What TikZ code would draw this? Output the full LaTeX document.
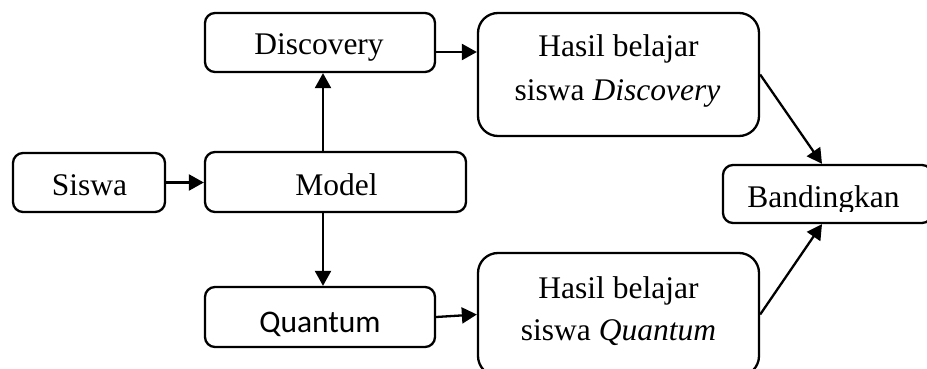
\documentclass[tikz,border=0pt]{standalone}
\usepackage{fontspec}
\setmainfont{Liberation Serif}
\newfontfamily\calibrifont{Carlito}
\usetikzlibrary{arrows.meta}
\begin{document}
\begin{tikzpicture}[x=1pt,y=-1pt,
  box/.style={draw,line width=2.3pt,rounded corners=10pt,inner sep=0pt},
  bigbox/.style={box,rounded corners=20pt},
  lbl/.style={anchor=base,inner sep=0pt,font=\fontsize{31.5}{43}\selectfont},
  arr/.style={line width=2.3pt,-{Triangle[length=15pt,width=16pt]}}]
\useasboundingbox (0,0) rectangle (927,369);

% boxes
\node[box,minimum width=230pt,minimum height=59pt] (disc) at (320,42.5) {};
\node[box,minimum width=152pt,minimum height=59pt] (siswa) at (89,182.5) {};
\node[box,minimum width=261pt,minimum height=60pt] (model) at (335.5,182) {};
\node[box,minimum width=230pt,minimum height=60pt] (quant) at (320,317) {};
\node[bigbox,minimum width=281pt,minimum height=123pt] (hasilD) at (618.5,74.5) {};
\node[bigbox,minimum width=281pt,minimum height=123pt] (hasilQ) at (618.5,314.5) {};
\node[box,minimum width=209pt,minimum height=58pt] (band) at (827.5,194) {};

% labels
\node[lbl] (tdisc) at (319,55) {Discovery};
\node[lbl] (tsiswa) at (89.5,195) {Siswa};
\node[lbl] (tmodel) at (336.5,195) {Model};
\node[lbl,font=\fontsize{31.5}{43}\calibrifont] (tquant) at (320,332) {Quantum};
\node[lbl] (thd1) at (618.5,57) {Hasil belajar};
\node[lbl] (thd2) at (617.5,100) {siswa \textit{Discovery}};
\node[lbl] (thq1) at (618.5,298) {Hasil belajar};
\node[lbl] (thq2) at (618.5,340) {siswa \textit{Quantum}};
\begin{scope}
  \clip (700,150) rectangle (927,211);
  \node[lbl] (tband) at (823.5,207) {Bandingkan};
\end{scope}

% connectors
\coordinate (discout) at ([yshift=-9.5pt]disc.east);
\draw[arr] (siswa.east) -- (model.west |- siswa.east);
\draw[arr] ([xshift=3pt]disc.south |- model.north) -- ([xshift=3pt]disc.south);
\draw[arr] ([xshift=3pt]disc.south |- model.south) -- ([xshift=3pt]quant.north);
\draw[arr] (discout) -- (hasilD.west |- discout);
\draw[arr] (quant.east) -- (hasilQ.west);
\draw[arr] (hasilD.east) -- ([xshift=-5.5pt]band.north);
\draw[arr] (hasilQ.east) -- ([xshift=-5.5pt]band.south);
\end{tikzpicture}
\end{document}
